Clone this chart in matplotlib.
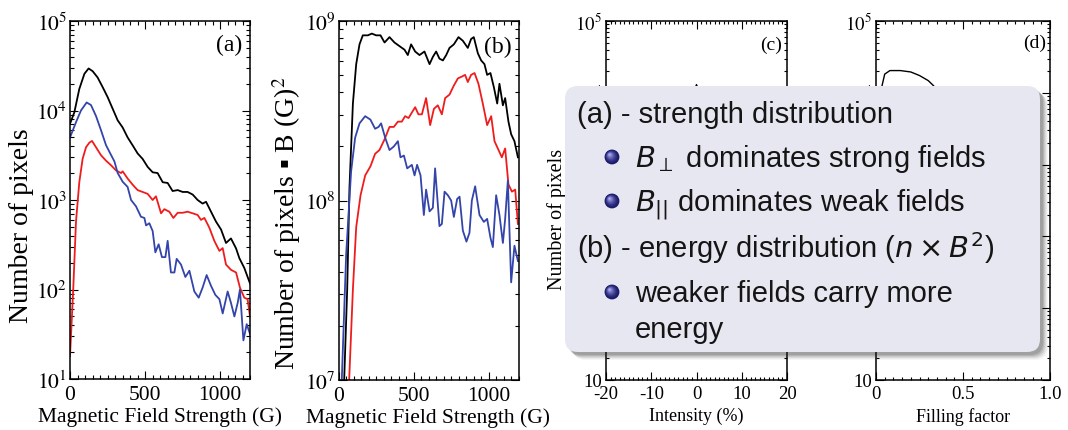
import numpy as np
import matplotlib
matplotlib.use('Agg')
import matplotlib.pyplot as plt
from matplotlib.ticker import (FixedLocator, FixedFormatter, MultipleLocator,
                               LogLocator, NullFormatter)
from matplotlib.patches import FancyBboxPatch, Circle

plt.rcParams['font.family'] = ['Liberation Serif', 'DejaVu Sans']
plt.rcParams['mathtext.fontset'] = 'stix'
plt.rcParams['axes.unicode_minus'] = False

# ---------------- data ----------------
# Panel (a): number of pixels vs field strength
a_black_x = [0, 29, 62, 96, 124, 151, 184, 218, 251, 284, 318, 351, 384, 418, 451, 484, 518, 551,
             584, 618, 651, 684, 718, 751, 784, 818, 851, 884, 907, 940, 973, 1007, 1040, 1073,
             1107, 1129, 1162, 1200]
a_black_y = [7100, 9550, 17400, 25700, 29500, 27500, 23400, 18200, 14100, 10500, 7760, 6460, 5010,
             4070, 3310, 2880, 2340, 2040, 2000, 1580, 1550, 1260, 1290, 1230, 1230, 1150, 1000,
             912, 955, 741, 575, 468, 331, 372, 288, 224, 174, 117]
a_blue_x = [0, 40, 73, 111, 140, 173, 207, 240, 273, 296, 318, 351, 384, 407, 440, 473, 496, 507,
            529, 551, 569, 591, 613, 636, 651, 673, 696, 711, 740, 769, 796, 829, 858, 884, 911,
            940, 969, 996, 1018, 1051, 1073, 1096, 1118, 1133, 1156, 1178, 1200]
a_blue_y = [5000, 7400, 10000, 12300, 11500, 8700, 6000, 4100, 3200, 2700, 2000, 1600, 1400, 1000,
            850, 650, 630, 520, 550, 450, 260, 320, 230, 230, 350, 155, 155, 220, 190, 138, 162,
            95, 81, 105, 145, 110, 87, 78, 54, 95, 71, 50, 71, 100, 27, 41, 32]
a_red_x = [0, 22, 40, 62, 84, 107, 129, 147, 173, 207, 240, 273, 307, 340, 351, 384, 418, 451, 484,
           518, 551, 573, 607, 629, 662, 689, 718, 751, 784, 818, 851, 873, 896, 929, 962, 996,
           1018, 1040, 1073, 1107, 1133, 1162, 1184, 1200]
a_red_y = [18, 105, 575, 1580, 2880, 3890, 4370, 4570, 3890, 3160, 2750, 2450, 2140, 2000, 2090,
           1740, 1480, 1290, 1230, 1170, 1000, 1100, 710, 790, 740, 630, 720, 720, 740, 710, 680,
           600, 630, 490, 350, 270, 290, 190, 166, 155, 105, 81, 78, 50]

# Panel (b): number of pixels * B^2 (in units of 1e8 G^2)
b_black_x = [36, 58, 73, 96, 118, 140, 162, 196, 222, 251, 280, 307, 340, 373, 407, 440, 462, 484,
             511, 540, 573, 607, 629, 651, 673, 696, 718, 740, 769, 800, 829, 862, 884, 902, 929,
             951, 973, 991, 1013, 1036, 1058, 1073, 1096, 1111, 1133, 1151, 1173, 1196]
b_black_y = [0.09, 0.32, 1.17, 3.47, 5.75, 7.41, 8.32, 8.32, 8.51, 8.32, 8.32, 7.59, 8.13, 7.59,
             7.24, 6.92, 6.46, 7.41, 6.76, 6.46, 6.76, 5.75, 6.31, 6.76, 6.17, 6.03, 6.46, 7.08,
             7.41, 8.13, 7.76, 7.08, 7.94, 8.13, 6.61, 6.03, 5.75, 5.01, 5.13, 4.27, 3.47, 4.47,
             3.39, 3.72, 2.75, 2.34, 2.14, 1.74]
b_red_x = [70, 96, 118, 147, 178, 213, 244, 273, 307, 340, 369, 396, 422, 444, 467, 489, 511, 533,
           556, 584, 611, 636, 662, 689, 711, 740, 769, 796, 822, 844, 862, 884, 907, 933, 962,
           991, 1018, 1040, 1067, 1089, 1111, 1133, 1156, 1178, 1196]
b_red_y = [0.095, 0.32, 0.71, 1.07, 1.38, 1.55, 1.82, 1.91, 2.19, 2.57, 2.57, 2.75, 2.75, 2.95,
           2.88, 3.09, 3.31, 3.02, 3.02, 3.72, 2.63, 3.24, 3.39, 3.02, 3.72, 3.89, 4.37, 4.79,
           4.90, 5.01, 4.57, 5.01, 5.13, 4.47, 3.47, 2.63, 2.95, 2.14, 1.91, 1.74, 1.95, 1.23,
           1.12, 1.15, 0.74]
b_blue_x = [20, 51, 84, 111, 140, 178, 213, 244, 267, 284, 311, 340, 369, 396, 413, 436, 458, 489,
            507, 524, 547, 569, 584, 607, 629, 644, 673, 689, 707, 729, 751, 769, 791, 807, 829,
            853, 873, 889, 911, 940, 969, 991, 1013, 1029, 1051, 1073, 1096, 1111, 1129, 1151,
            1173, 1196]
b_blue_y = [0.09, 0.50, 1.45, 2.24, 2.69, 2.95, 2.82, 2.51, 2.57, 2.69, 2.24, 1.91, 2.00, 2.14,
            1.74, 1.78, 1.51, 1.58, 1.38, 1.58, 1.38, 0.83, 1.15, 0.87, 0.91, 1.51, 0.72, 0.74,
            1.12, 1.07, 1.00, 0.81, 1.02, 1.05, 0.68, 0.59, 0.66, 1.00, 1.20, 0.83, 0.76, 0.79,
            0.62, 0.55, 1.07, 0.83, 0.58, 0.79, 1.29, 0.35, 0.56, 0.46]
B_UNIT = 1e8

# Panel (c): intensity distribution (mostly hidden by the box)
c_x = [-8, -5, -3, -2, -1, 0, 1, 2, 3, 5, 8]
c_y = [3, 60, 900, 3500, 9000, 13000, 9000, 3500, 900, 60, 3]

# Panel (d): filling factor distribution (mostly hidden by the box)
d_x = [0.02, 0.03, 0.05, 0.08, 0.14, 0.20, 0.25, 0.30, 0.33, 0.40, 0.50, 0.60, 0.70, 0.80, 0.90]
d_y = [3000, 11200, 18200, 20400, 20400, 19500, 17400, 14800, 12600, 8000, 4000, 1500, 500, 120, 20]

# Box text
box_lines = [
    ('head', '(a) - strength distribution'),
    ('bullet', r'$B_{\perp}$ dominates strong fields'),
    ('bullet', r'$B_{||}$ dominates weak fields'),
    ('head', r'(b) - energy distribution ($n\times B^{2}$)'),
    ('bullet', 'weaker fields carry more'),
    ('cont', 'energy'),
]

# ---------------- figure ----------------
W, H = 1068, 431
fig = plt.figure(figsize=(W / 100, H / 100), dpi=100)


def px_axes(l, r, t, b):
    return fig.add_axes([l / W, 1 - b / H, (r - l) / W, (b - t) / H])


BLACK, RED, BLUE = '#000000', '#f01c1c', '#3344aa'
LW = 1.3


def style(ax, fs, major_len=6, minor_len=3):
    for s in ax.spines.values():
        s.set_linewidth(1.1)
    ax.tick_params(which='both', direction='in', top=True, right=True, width=0.8,
                   labelsize=fs)
    ax.tick_params(which='major', length=major_len)
    ax.tick_params(which='minor', length=minor_len)


def log_labels(ax, exps, first_plain=False):
    vals = [10.0 ** e for e in exps]
    labs = ['$10^{%d}$' % e for e in exps]
    if first_plain:
        labs[0] = '10'
    ax.yaxis.set_major_locator(FixedLocator(vals))
    ax.yaxis.set_major_formatter(FixedFormatter(labs))
    ax.yaxis.set_minor_locator(LogLocator(base=10, subs=range(2, 10), numticks=20))
    ax.yaxis.set_minor_formatter(NullFormatter())


# Panel (a)
ax_a = px_axes(70, 250, 22, 380)
ax_a.plot(a_black_x, a_black_y, color=BLACK, lw=LW)
ax_a.plot(a_red_x, a_red_y, color=RED, lw=LW)
ax_a.plot(a_blue_x, a_blue_y, color=BLUE, lw=LW)
ax_a.set_yscale('log')
ax_a.set_xlim(0, 1200)
ax_a.set_ylim(10, 1e5)
log_labels(ax_a, [1, 2, 3, 4, 5])
ax_a.xaxis.set_major_locator(FixedLocator([0, 500, 1000]))
ax_a.xaxis.set_minor_locator(MultipleLocator(50))
style(ax_a, 15.5)
ax_a.tick_params(axis='y', pad=2)
ax_a.tick_params(axis='x', pad=4)
ax_a.set_xlabel('Magnetic Field Strength (G)', fontsize=15.5)
ax_a.xaxis.set_label_coords(0.5, -0.075)
ax_a.set_ylabel('Number of pixels', fontsize=20)
ax_a.yaxis.set_label_coords(-0.2, 0.43)
ax_a.text(0.956, 0.935, '(a)', transform=ax_a.transAxes, ha='right', va='center', fontsize=17)

# Panel (b)
ax_b = px_axes(338.5, 518.5, 22, 381)
ax_b.plot(b_black_x, np.array(b_black_y) * B_UNIT, color=BLACK, lw=LW)
ax_b.plot(b_red_x, np.array(b_red_y) * B_UNIT, color=RED, lw=LW)
ax_b.plot(b_blue_x, np.array(b_blue_y) * B_UNIT, color=BLUE, lw=LW)
ax_b.set_yscale('log')
ax_b.set_xlim(0, 1200)
ax_b.set_ylim(1e7, 1e9)
log_labels(ax_b, [7, 8, 9])
ax_b.xaxis.set_major_locator(FixedLocator([0, 500, 1000]))
ax_b.xaxis.set_minor_locator(MultipleLocator(50))
style(ax_b, 15.5)
ax_b.tick_params(axis='y', pad=2)
ax_b.tick_params(axis='x', pad=4)
ax_b.set_xlabel('Magnetic Field Strength (G)', fontsize=15.5)
ax_b.xaxis.set_label_coords(0.5, -0.075)
ax_b.set_ylabel('Number of pixels \u25aa B (G)$^{2}$', fontsize=20)
ax_b.yaxis.set_label_coords(-0.195, 0.44)
ax_b.text(0.962, 0.93, '(b)', transform=ax_b.transAxes, ha='right', va='center', fontsize=17)

# Panel (c)
ax_c = px_axes(606, 787, 22, 381)
ax_c.plot(c_x, c_y, color=BLACK, lw=1.0)
ax_c.set_yscale('log')
ax_c.set_xlim(-20, 20)
ax_c.set_ylim(1, 1e5)
log_labels(ax_c, [0, 1, 2, 3, 4, 5], first_plain=True)
ax_c.xaxis.set_major_locator(FixedLocator([-20, -10, 0, 10, 20]))
ax_c.xaxis.set_minor_locator(MultipleLocator(1))
style(ax_c, 13.5, major_len=6, minor_len=2.5)
ax_c.tick_params(axis='y', pad=3)
ax_c.set_xlabel('Intensity (%)', fontsize=13)
ax_c.xaxis.set_label_coords(0.5, -0.075)
ax_c.set_ylabel('Number of pixels', fontsize=14.5)
ax_c.yaxis.set_label_coords(-0.215, 0.45)
ax_c.text(0.972, 0.935, '(c)', transform=ax_c.transAxes, ha='right', va='center', fontsize=14)

# Panel (d)
ax_d = px_axes(876, 1050, 22, 381)
ax_d.plot(d_x, d_y, color=BLACK, lw=1.0)
ax_d.set_yscale('log')
ax_d.set_xlim(0, 1.0)
ax_d.set_ylim(1, 1e5)
log_labels(ax_d, [0, 1, 2, 3, 4, 5], first_plain=True)
ax_d.xaxis.set_major_locator(FixedLocator([0, 0.5, 1.0]))
ax_d.xaxis.set_major_formatter(FixedFormatter(['0', '0.5', '1.0']))
ax_d.xaxis.set_minor_locator(MultipleLocator(0.05))
style(ax_d, 13.5, major_len=6, minor_len=2.5)
ax_d.tick_params(axis='y', pad=3)
ax_d.set_xlabel('Filling factor', fontsize=13)
ax_d.xaxis.set_label_coords(0.5, -0.075)
ax_d.set_ylabel('Number of pixels', fontsize=14.5)
ax_d.yaxis.set_label_coords(-0.23, 0.45)
ax_d.text(0.975, 0.94, '(d)', transform=ax_d.transAxes, ha='right', va='center', fontsize=14)

# ---------------- overlay box ----------------
ov = fig.add_axes([0, 0, 1, 1], zorder=10)
ov.set_xlim(0, W)
ov.set_ylim(H, 0)
ov.axis('off')
ov.patch.set_visible(False)

bx, by, bw, bh, rr = 565, 87, 475, 266, 13
for off, a in [(8, 0.04), (7, 0.06), (6, 0.08), (5, 0.10), (4, 0.12), (3, 0.14)]:
    ov.add_patch(FancyBboxPatch((bx + off, by + off), bw, bh,
                                boxstyle='round,pad=0,rounding_size=%d' % rr,
                                fc='#2a2a2a', ec='none', alpha=a))
ov.add_patch(FancyBboxPatch((bx, by), bw, bh, boxstyle='round,pad=0,rounding_size=%d' % rr,
                            fc='#e7e7f1', ec='none'))


def ball(x, y, r):
    n = 14
    c0 = np.array([0.10, 0.10, 0.42])
    c1 = np.array([0.66, 0.66, 0.96])
    for k in range(n):
        t = k / (n - 1)
        rad = r * (1 - 0.88 * t)
        cx = x - 0.33 * r * t
        cy = y - 0.33 * r * t
        col = c0 + (c1 - c0) * t ** 1.6
        ov.add_patch(Circle((cx, cy), rad, fc=col, ec='none'))


baselines = [123, 167, 211, 258, 302, 338]
for (kind, s), yb in zip(box_lines, baselines):
    if kind == 'head':
        x0 = 577
    else:
        x0 = 635
    if kind == 'bullet':
        ball(612, yb - 9, 7.4)
    ov.text(x0, yb, s, fontsize=21, family='Liberation Sans', ha='left', va='baseline',
            color='#151515', math_fontfamily='dejavusans')

fig.savefig('out.png', dpi=100)
